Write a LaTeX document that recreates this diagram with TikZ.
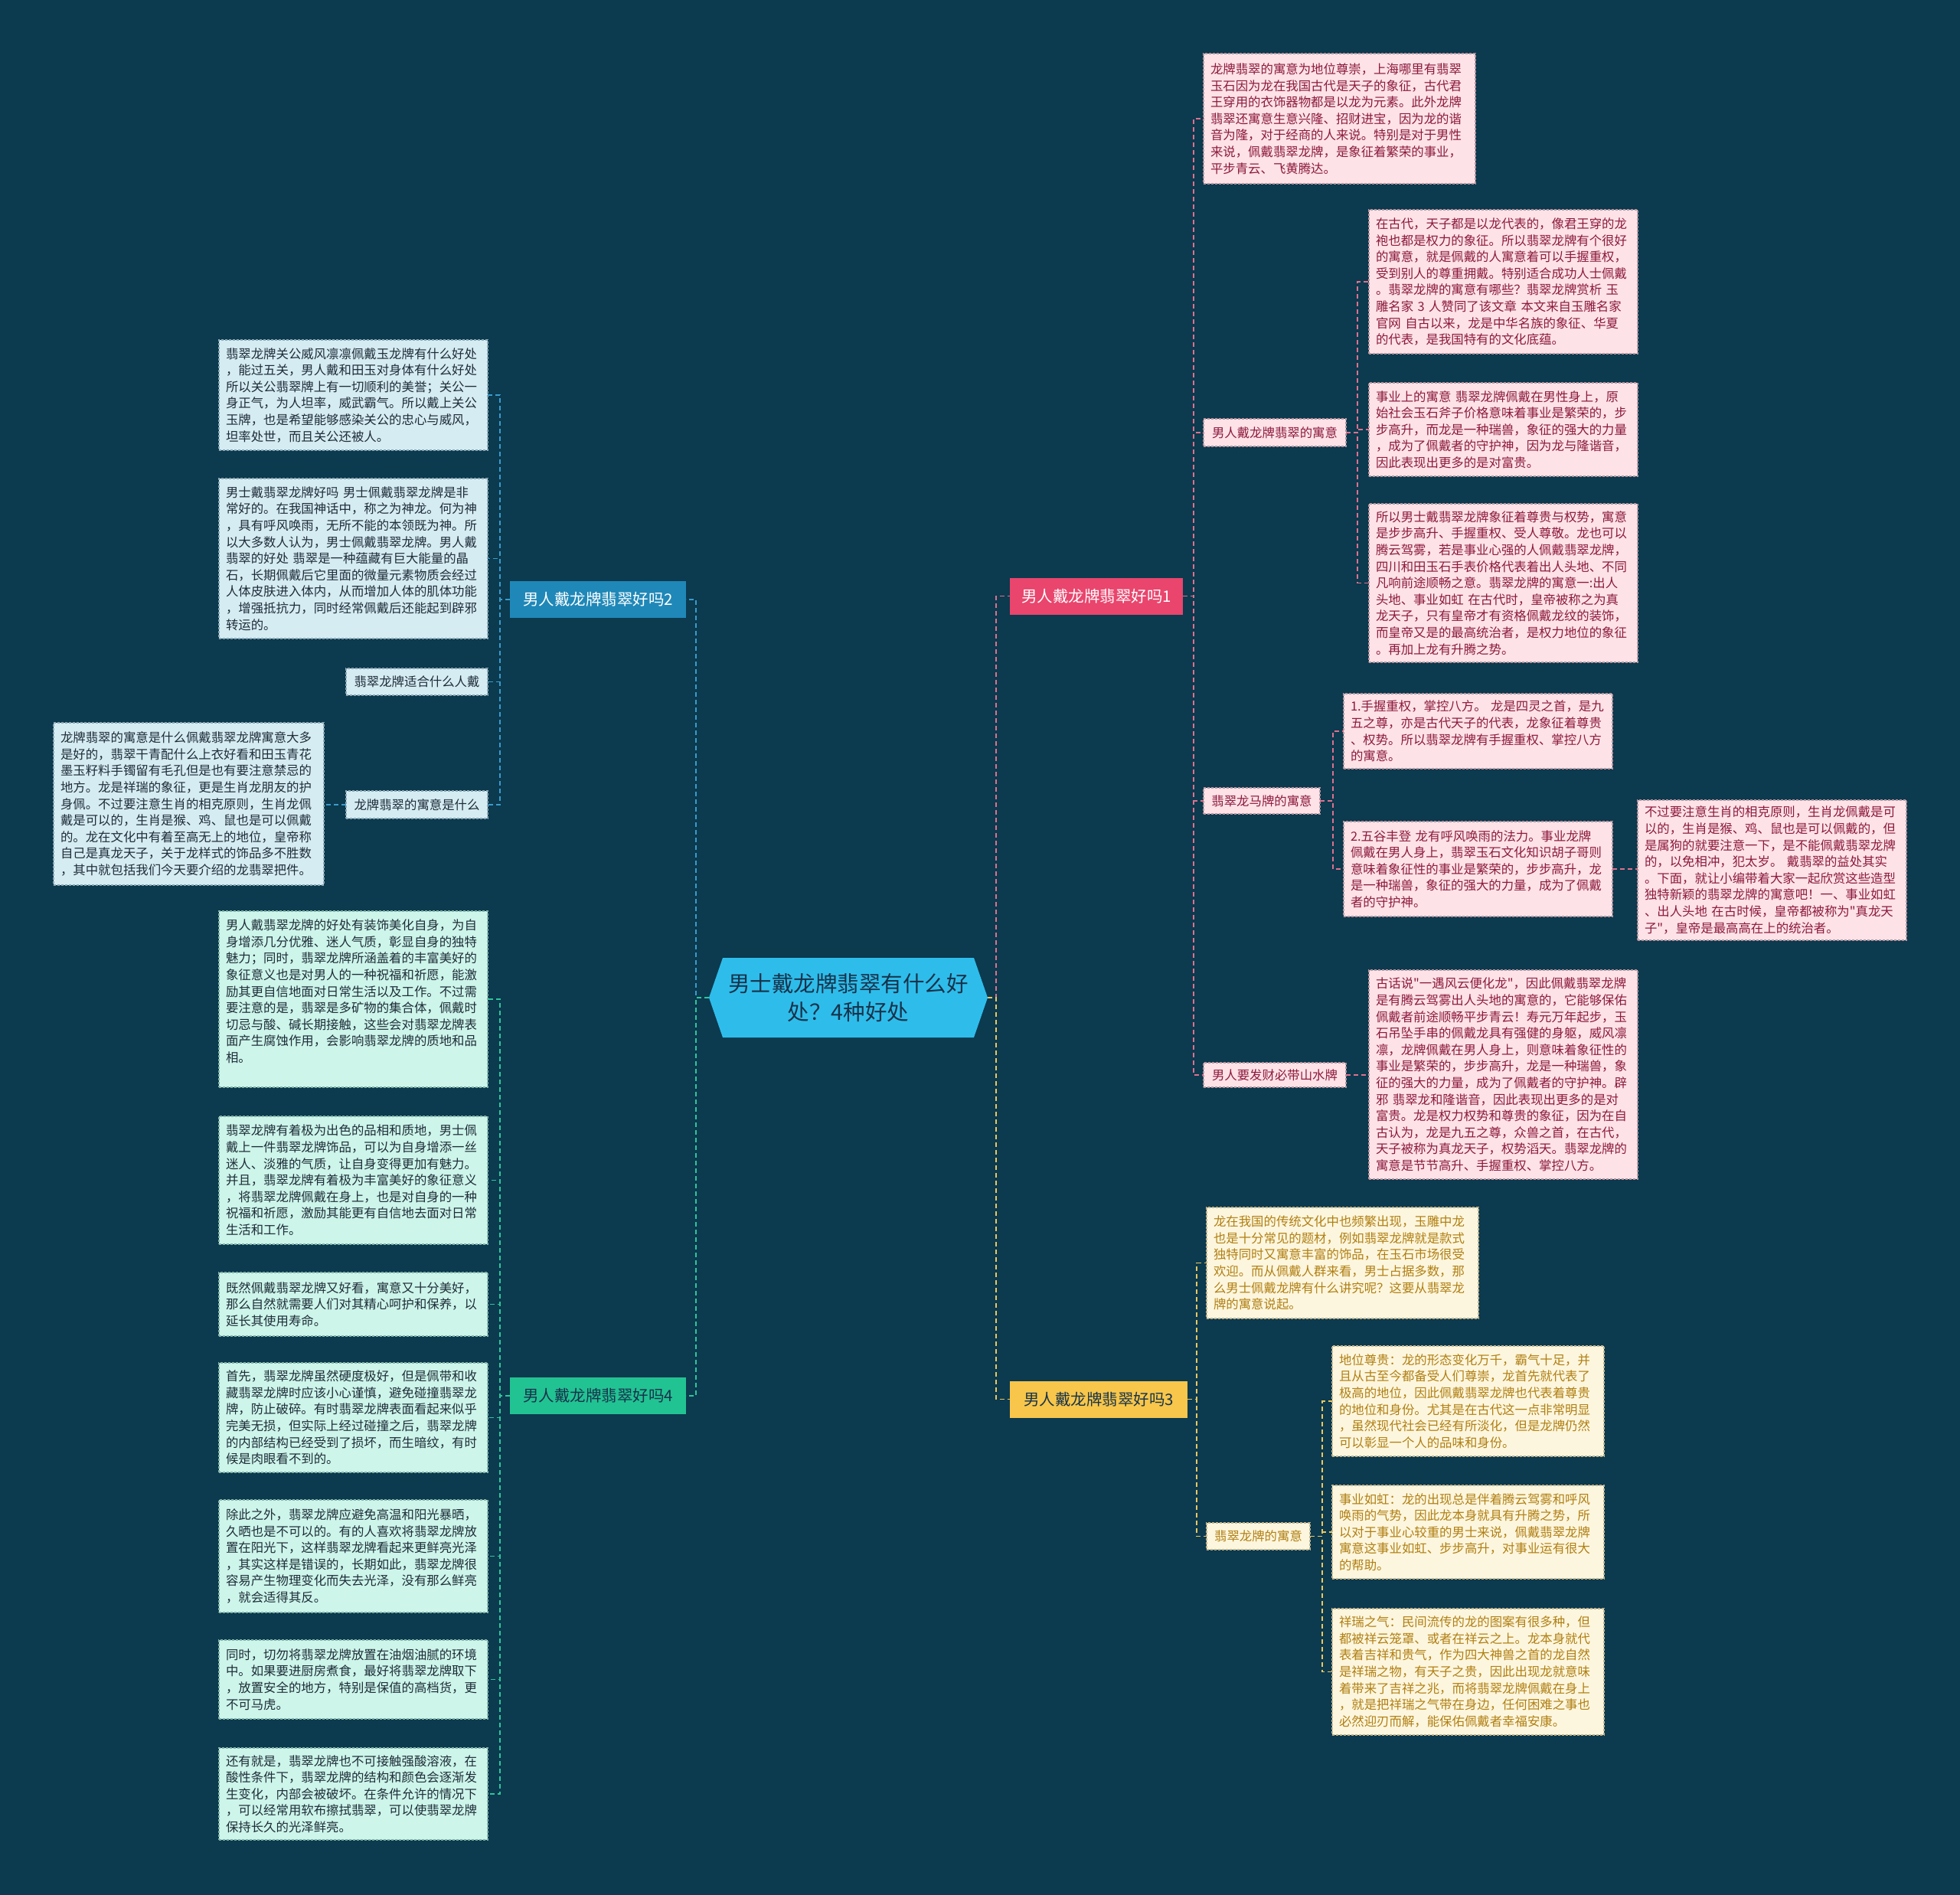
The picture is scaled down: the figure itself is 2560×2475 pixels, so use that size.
\documentclass[tikz,border=0pt]{standalone}
\usepackage{fontspec}
\setmainfont{Noto Sans CJK SC}[Ligatures=TeXOff]
\definecolor{bgc}{HTML}{0C3A4F}
\definecolor{pkfill}{HTML}{FDE2E7}\definecolor{pktext}{HTML}{8C1A3E}\definecolor{pkdraw}{HTML}{B8949D}
\definecolor{ylfill}{HTML}{FDF6DE}\definecolor{yltext}{HTML}{B07F12}\definecolor{yldraw}{HTML}{C2B48A}
\definecolor{blfill}{HTML}{D6ECF3}\definecolor{bltext}{HTML}{1E2D38}\definecolor{bldraw}{HTML}{8AA6B2}
\definecolor{gnfill}{HTML}{CDF5EA}\definecolor{gntext}{HTML}{1E2D38}\definecolor{gndraw}{HTML}{82B3A6}
\definecolor{bonefill}{HTML}{E9456D}\definecolor{btwofill}{HTML}{1F88B8}
\definecolor{bthreefill}{HTML}{F7C64A}\definecolor{bfourfill}{HTML}{22C393}
\definecolor{centerfill}{HTML}{2EBDEB}\definecolor{centertext}{HTML}{17324A}
\definecolor{pkline}{HTML}{E0708C}\definecolor{ylline}{HTML}{EBC75E}
\definecolor{blline}{HTML}{3A9CCB}\definecolor{gnline}{HTML}{2DC79B}
\tikzset{
  box/.style={anchor=north west, inner xsep=9pt, inner ysep=6pt, outer sep=0pt, align=left,
    font=\fontsize{16.4}{21.6}\selectfont, line width=1.2pt, dash pattern=on 3pt off 2pt},
  lblbox/.style={box, align=center, inner xsep=4pt},
  pk/.style={box, fill=pkfill, draw=pkdraw, text=pktext},
  yl/.style={box, fill=ylfill, draw=yldraw, text=yltext},
  bl/.style={box, fill=blfill, draw=bldraw, text=bltext},
  gn/.style={box, fill=gnfill, draw=gndraw, text=gntext},
  pklbl/.style={lblbox, fill=pkfill, draw=pkdraw, text=pktext},
  yllbl/.style={lblbox, fill=ylfill, draw=yldraw, text=yltext},
  bllbl/.style={lblbox, fill=blfill, draw=bldraw, text=bltext},
  branch/.style={anchor=center, inner sep=4pt, outer sep=0pt, font=\fontsize{20.5}{24}\selectfont,
    minimum height=48pt},
  conn/.style={line width=1.8pt, dash pattern=on 6pt off 4pt},
}
\begin{document}
\begin{tikzpicture}[x=1pt,y=-1pt]
\useasboundingbox (0,0) rectangle (2560,2475);
\fill[bgc] (0,0) rectangle (2560,2475);

% center
\fill[centerfill] (944,1251) -- (1272,1251) -- (1290,1303) -- (1272,1355) -- (944,1355) -- (926,1303) -- cycle;
\node[minimum width=364pt, minimum height=104pt, inner sep=0pt, outer sep=0pt, align=center,
  text=centertext, font=\fontsize{28.5}{37}\selectfont] (c) at (1108,1303) {男士戴龙牌翡翠有什么好\\处？4种好处};

% branches
\node[branch, fill=bonefill, text=white, minimum width=226pt] (b1) at (1432,778.5) {男人戴龙牌翡翠好吗1};
\node[branch, fill=btwofill, text=white, minimum width=230pt] (b2) at (781,783) {男人戴龙牌翡翠好吗2};
\node[branch, fill=bthreefill, text=centertext, minimum width=232pt] (b3) at (1435,1827.5) {男人戴龙牌翡翠好吗3};
\node[branch, fill=bfourfill, text=centertext, minimum width=230pt] (b4) at (781,1823) {男人戴龙牌翡翠好吗4};

% ---------- branch 1 ----------
\node[pk, text width=337pt, minimum height=170pt] (r1top) at (1572,70) {龙牌翡翠的寓意为地位尊崇，上海哪里有翡翠\\玉石因为龙在我国古代是天子的象征，古代君\\王穿用的衣饰器物都是以龙为元素。此外龙牌\\翡翠还寓意生意兴隆、招财进宝，因为龙的谐\\音为隆，对于经商的人来说。特别是对于男性\\来说，佩戴翡翠龙牌，是象征着繁荣的事业，\\平步青云、飞黄腾达。};
\node[pklbl, minimum width=186pt, minimum height=36pt] (r1a) at (1572,547) {男人戴龙牌翡翠的寓意};
\node[pk, text width=333pt, minimum height=188pt] (r1a1) at (1788,274) {在古代，天子都是以龙代表的，像君王穿的龙\\袍也都是权力的象征。所以翡翠龙牌有个很好\\的寓意，就是佩戴的人寓意着可以手握重权，\\受到别人的尊重拥戴。特别适合成功人士佩戴\\。翡翠龙牌的寓意有哪些？翡翠龙牌赏析~玉\\雕名家~3~人赞同了该文章~本文来自玉雕名家\\官网~自古以来，龙是中华名族的象征、华夏\\的代表，是我国特有的文化底蕴。};
\node[pk, text width=333pt, minimum height=122pt] (r1a2) at (1788,500) {事业上的寓意~翡翠龙牌佩戴在男性身上，原\\始社会玉石斧子价格意味着事业是繁荣的，步\\步高升，而龙是一种瑞兽，象征的强大的力量\\，成为了佩戴者的守护神，因为龙与隆谐音，\\因此表现出更多的是对富贵。};
\node[pk, text width=333pt, minimum height=207pt] (r1a3) at (1788,658) {所以男士戴翡翠龙牌象征着尊贵与权势，寓意\\是步步高升、手握重权、受人尊敬。龙也可以\\腾云驾雾，若是事业心强的人佩戴翡翠龙牌，\\四川和田玉石手表价格代表着出人头地、不同\\凡响前途顺畅之意。翡翠龙牌的寓意一:出人\\头地、事业如虹~在古代时，皇帝被称之为真\\龙天子，只有皇帝才有资格佩戴龙纹的装饰，\\而皇帝又是的最高统治者，是权力地位的象征\\。再加上龙有升腾之势。};
\node[pklbl, minimum width=152pt, minimum height=34pt] (r1b) at (1572,1029) {翡翠龙马牌的寓意};
\node[pk, text width=333pt, minimum height=98pt] (r1b1) at (1755,906) {1.手握重权，掌控八方。~龙是四灵之首，是九\\五之尊，亦是古代天子的代表，龙象征着尊贵\\、权势。所以翡翠龙牌有手握重权、掌控八方\\的寓意。};
\node[pk, text width=333pt, minimum height=124pt] (r1b2) at (1755,1073) {2.五谷丰登~龙有呼风唤雨的法力。事业龙牌\\佩戴在男人身上，翡翠玉石文化知识胡子哥则\\意味着象征性的事业是繁荣的，步步高升，龙\\是一种瑞兽，象征的强大的力量，成为了佩戴\\者的守护神。};
\node[pk, text width=333pt, minimum height=183pt] (r1b2a) at (2139,1045) {不过要注意生肖的相克原则，生肖龙佩戴是可\\以的，生肖是猴、鸡、鼠也是可以佩戴的，但\\是属狗的就要注意一下，是不能佩戴翡翠龙牌\\的，以免相冲，犯太岁。~戴翡翠的益处其实\\。下面，就让小编带着大家一起欣赏这些造型\\独特新颖的翡翠龙牌的寓意吧！一、事业如虹\\、出人头地~在古时候，皇帝都被称为"真龙天\\子"，皇帝是最高高在上的统治者。};
\node[pklbl, minimum width=186pt, minimum height=32pt] (r1c) at (1572,1388) {男人要发财必带山水牌};
\node[pk, text width=333pt, minimum height=273pt] (r1c1) at (1788,1267) {古话说"一遇风云便化龙"，因此佩戴翡翠龙牌\\是有腾云驾雾出人头地的寓意的，它能够保佑\\佩戴者前途顺畅平步青云！寿元万年起步，玉\\石吊坠手串的佩戴龙具有强健的身躯，威风凛\\凛，龙牌佩戴在男人身上，则意味着象征性的\\事业是繁荣的，步步高升，龙是一种瑞兽，象\\征的强大的力量，成为了佩戴者的守护神。辟\\邪~翡翠龙和隆谐音，因此表现出更多的是对\\富贵。龙是权力权势和尊贵的象征，因为在自\\古认为，龙是九五之尊，众兽之首，在古代，\\天子被称为真龙天子，权势滔天。翡翠龙牌的\\寓意是节节高升、手握重权、掌控八方。};

% ---------- branch 3 ----------
\node[yl, text width=337pt, minimum height=145pt] (r3top) at (1576,1577) {龙在我国的传统文化中也频繁出现，玉雕中龙\\也是十分常见的题材，例如翡翠龙牌就是款式\\独特同时又寓意丰富的饰品，在玉石市场很受\\欢迎。而从佩戴人群来看，男士占据多数，那\\么男士佩戴龙牌有什么讲究呢？这要从翡翠龙\\牌的寓意说起。};
\node[yllbl, minimum width=135pt, minimum height=35pt] (r3a) at (1576,1989) {翡翠龙牌的寓意};
\node[yl, text width=337pt, minimum height=144pt] (r3a1) at (1740,1758) {地位尊贵：龙的形态变化万千，霸气十足，并\\且从古至今都备受人们尊崇，龙首先就代表了\\极高的地位，因此佩戴翡翠龙牌也代表着尊贵\\的地位和身份。尤其是在古代这一点非常明显\\，虽然现代社会已经有所淡化，但是龙牌仍然\\可以彰显一个人的品味和身份。};
\node[yl, text width=337pt, minimum height=122pt] (r3a2) at (1740,1940) {事业如虹：龙的出现总是伴着腾云驾雾和呼风\\唤雨的气势，因此龙本身就具有升腾之势，所\\以对于事业心较重的男士来说，佩戴翡翠龙牌\\寓意这事业如虹、步步高升，对事业运有很大\\的帮助。};
\node[yl, text width=337pt, minimum height=165pt] (r3a3) at (1740,2101) {祥瑞之气：民间流传的龙的图案有很多种，但\\都被祥云笼罩、或者在祥云之上。龙本身就代\\表着吉祥和贵气，作为四大神兽之首的龙自然\\是祥瑞之物，有天子之贵，因此出现龙就意味\\着带来了吉祥之兆，而将翡翠龙牌佩戴在身上\\，就是把祥瑞之气带在身边，任何困难之事也\\必然迎刃而解，能保佑佩戴者幸福安康。};

% ---------- branch 2 ----------
\node[bl, text width=333pt, minimum height=144pt] (l2a) at (286,444) {翡翠龙牌关公威风凛凛佩戴玉龙牌有什么好处\\，能过五关，男人戴和田玉对身体有什么好处\\所以关公翡翠牌上有一切顺利的美誉；关公一\\身正气，为人坦率，威武霸气。所以戴上关公\\玉牌，也是希望能够感染关公的忠心与威风，\\坦率处世，而且关公还被人。};
\node[bl, text width=333pt, minimum height=209pt] (l2b) at (286,625) {男士戴翡翠龙牌好吗~男士佩戴翡翠龙牌是非\\常好的。在我国神话中，称之为神龙。何为神\\，具有呼风唤雨，无所不能的本领既为神。所\\以大多数人认为，男士佩戴翡翠龙牌。男人戴\\翡翠的好处~翡翠是一种蕴藏有巨大能量的晶\\石，长期佩戴后它里面的微量元素物质会经过\\人体皮肤进入体内，从而增加人体的肌体功能\\，增强抵抗力，同时经常佩戴后还能起到辟邪\\转运的。};
\node[bllbl, minimum width=185pt, minimum height=35pt] (l2c) at (452,873) {翡翠龙牌适合什么人戴};
\node[bllbl, minimum width=185pt, minimum height=36pt] (l2d) at (452,1033) {龙牌翡翠的寓意是什么};
\node[bl, text width=335pt, minimum height=212pt] (l2d1) at (70,944) {龙牌翡翠的寓意是什么佩戴翡翠龙牌寓意大多\\是好的，翡翠干青配什么上衣好看和田玉青花\\墨玉籽料手镯留有毛孔但是也有要注意禁忌的\\地方。龙是祥瑞的象征，更是生肖龙朋友的护\\身佩。不过要注意生肖的相克原则，生肖龙佩\\戴是可以的，生肖是猴、鸡、鼠也是可以佩戴\\的。龙在文化中有着至高无上的地位，皇帝称\\自己是真龙天子，关于龙样式的饰品多不胜数\\，其中就包括我们今天要介绍的龙翡翠把件。};

% ---------- branch 4 ----------
\node[gn, text width=333pt, minimum height=230pt] (l4a) at (286,1190) {男人戴翡翠龙牌的好处有装饰美化自身，为自\\身增添几分优雅、迷人气质，彰显自身的独特\\魅力；同时，翡翠龙牌所涵盖着的丰富美好的\\象征意义也是对男人的一种祝福和祈愿，能激\\励其更自信地面对日常生活以及工作。不过需\\要注意的是，翡翠是多矿物的集合体，佩戴时\\切忌与酸、碱长期接触，这些会对翡翠龙牌表\\面产生腐蚀作用，会影响翡翠龙牌的质地和品\\相。\\\mbox{}};
\node[gn, text width=333pt, minimum height=167pt] (l4b) at (286,1458) {翡翠龙牌有着极为出色的品相和质地，男士佩\\戴上一件翡翠龙牌饰品，可以为自身增添一丝\\迷人、淡雅的气质，让自身变得更加有魅力。\\并且，翡翠龙牌有着极为丰富美好的象征意义\\，将翡翠龙牌佩戴在身上，也是对自身的一种\\祝福和祈愿，激励其能更有自信地去面对日常\\生活和工作。};
\node[gn, text width=333pt, minimum height=83pt] (l4c) at (286,1662) {既然佩戴翡翠龙牌又好看，寓意又十分美好，\\那么自然就需要人们对其精心呵护和保养，以\\延长其使用寿命。};
\node[gn, text width=333pt, minimum height=143pt] (l4d) at (286,1780) {首先，翡翠龙牌虽然硬度极好，但是佩带和收\\藏翡翠龙牌时应该小心谨慎，避免碰撞翡翠龙\\牌，防止破碎。有时翡翠龙牌表面看起来似乎\\完美无损，但实际上经过碰撞之后，翡翠龙牌\\的内部结构已经受到了损坏，而生暗纹，有时\\候是肉眼看不到的。};
\node[gn, text width=333pt, minimum height=147pt] (l4e) at (286,1959) {除此之外，翡翠龙牌应避免高温和阳光暴晒，\\久晒也是不可以的。有的人喜欢将翡翠龙牌放\\置在阳光下，这样翡翠龙牌看起来更鲜亮光泽\\，其实这样是错误的，长期如此，翡翠龙牌很\\容易产生物理变化而失去光泽，没有那么鲜亮\\，就会适得其反。};
\node[gn, text width=333pt, minimum height=103pt] (l4f) at (286,2142) {同时，切勿将翡翠龙牌放置在油烟油腻的环境\\中。如果要进厨房煮食，最好将翡翠龙牌取下\\，放置安全的地方，特别是保值的高档货，更\\不可马虎。};
\node[gn, text width=333pt, minimum height=120pt] (l4g) at (286,2283) {还有就是，翡翠龙牌也不可接触强酸溶液，在\\酸性条件下，翡翠龙牌的结构和颜色会逐渐发\\生变化，内部会被破坏。在条件允许的情况下\\，可以经常用软布擦拭翡翠，可以使翡翠龙牌\\保持长久的光泽鲜亮。};

% ---------- connectors ----------
\draw[conn, pkline] (c.east) -- ++(11,0) |- (b1.west);
\draw[conn, ylline] (c.east) -- ++(11,0) |- (b3.west);
\draw[conn, blline] (c.west) -- ++(-17,0) |- (b2.east);
\draw[conn, gnline] (c.west) -- ++(-17,0) |- (b4.east);

\foreach \t in {r1top,r1a,r1b,r1c}{\draw[conn, pkline] (b1.east) -- ++(14,0) |- (\t.west);}
\foreach \t in {r1a1,r1a2,r1a3}{\draw[conn, pkline] (r1a.east) -- ++(15,0) |- (\t.west);}
\foreach \t in {r1b1,r1b2}{\draw[conn, pkline] (r1b.east) -- ++(17,0) |- (\t.west);}
\draw[conn, pkline] (r1b2.east) -- (r1b2.east -| r1b2a.west);
\draw[conn, pkline] (r1c.east) -- (r1c.east -| r1c1.west);

\foreach \t in {r3top,r3a}{\draw[conn, ylline] (b3.east) -- ++(12,0) |- (\t.west);}
\foreach \t in {r3a1,r3a2,r3a3}{\draw[conn, ylline] (r3a.east) -- ++(16,0) |- (\t.west);}

\foreach \t in {l2a,l2b,l2c,l2d}{\draw[conn, blline] (b2.west) -- ++(-13,0) |- (\t.east);}
\draw[conn, blline] (l2d.west) -- (l2d.west -| l2d1.east);

\foreach \t in {l4a,l4b,l4c,l4d,l4e,l4f,l4g}{\draw[conn, gnline] (b4.west) -- ++(-13,0) |- (\t.east);}
\end{tikzpicture}
\end{document}
